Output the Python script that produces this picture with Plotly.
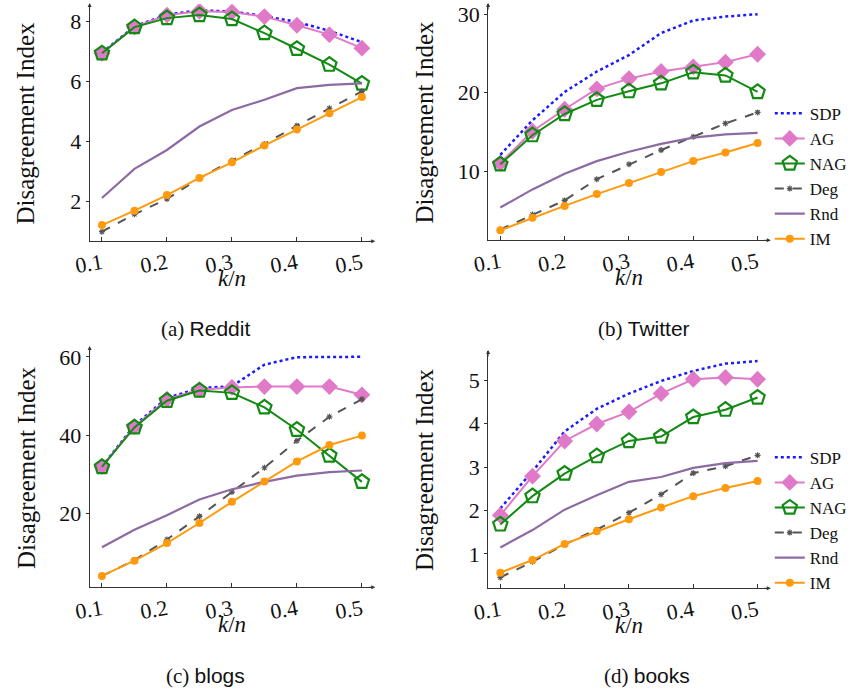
import plotly.graph_objects as go

k_ratio = [0.1, 0.15, 0.2, 0.25, 0.3, 0.35, 0.4, 0.45, 0.5]
x_ticks = [0.1, 0.2, 0.3, 0.4, 0.5]
x_tick_labels = ["0.1", "0.2", "0.3", "0.4", "0.5"]
methods = ["SDP", "AG", "NAG", "Deg", "Rnd", "IM"]

# (a) Reddit
reddit_sdp = [6.95, 7.82, 8.22, 8.36, 8.32, 8.17, 7.97, 7.68, 7.3]
reddit_ag = [6.93, 7.8, 8.2, 8.33, 8.3, 8.15, 7.86, 7.55, 7.1]
reddit_nag = [6.93, 7.8, 8.1, 8.2, 8.07, 7.6, 7.08, 6.55, 5.92]
reddit_deg = [0.99, 1.57, 2.08, 2.77, 3.36, 3.91, 4.52, 5.1, 5.66]
reddit_rnd = [2.11, 3.08, 3.71, 4.49, 5.04, 5.38, 5.77, 5.88, 5.93]
reddit_im = [1.21, 1.69, 2.21, 2.78, 3.3, 3.86, 4.39, 4.93, 5.47]

# (b) Twitter
twitter_sdp = [12.1, 16.5, 20.1, 22.7, 24.8, 27.6, 29.2, 29.7, 30.0]
twitter_ag = [11.05, 15.1, 17.9, 20.5, 21.8, 22.7, 23.3, 23.9, 24.9]
twitter_nag = [10.9, 14.6, 17.3, 19.1, 20.2, 21.2, 22.6, 22.2, 20.1]
twitter_deg = [2.6, 4.5, 6.3, 9.0, 10.9, 12.7, 14.4, 16.1, 17.5]
twitter_rnd = [5.4, 7.7, 9.7, 11.3, 12.5, 13.5, 14.3, 14.7, 14.9]
twitter_im = [2.5, 4.1, 5.6, 7.1, 8.5, 9.9, 11.3, 12.4, 13.6]

# (c) blogs
blogs_sdp = [32.0, 42.5, 49.5, 52.0, 52.5, 58.0, 59.9, 60.0, 60.0]
blogs_ag = [32.0, 42.2, 49.2, 51.6, 52.2, 52.4, 52.4, 52.4, 50.3]
blogs_nag = [31.9, 42.0, 48.8, 51.4, 50.8, 47.1, 41.4, 34.8, 28.1]
blogs_deg = [4.1, 8.1, 13.4, 19.3, 25.5, 31.7, 38.6, 44.7, 49.2]
blogs_rnd = [11.4, 15.9, 19.6, 23.6, 26.2, 28.1, 29.7, 30.6, 31.0]
blogs_im = [4.1, 8.0, 12.5, 17.6, 23.0, 28.2, 33.3, 37.5, 39.9]

# (d) books
books_sdp = [2.05, 2.9, 3.82, 4.34, 4.69, 4.98, 5.21, 5.38, 5.44]
books_ag = [1.89, 2.79, 3.6, 3.99, 4.27, 4.69, 5.02, 5.06, 5.02]
books_nag = [1.68, 2.33, 2.85, 3.25, 3.6, 3.7, 4.15, 4.32, 4.6]
books_deg = [0.46, 0.82, 1.22, 1.56, 1.95, 2.37, 2.86, 3.02, 3.27]
books_rnd = [1.15, 1.55, 2.02, 2.35, 2.66, 2.77, 2.98, 3.09, 3.14]
books_im = [0.57, 0.86, 1.23, 1.52, 1.8, 2.07, 2.33, 2.52, 2.68]

panels = [
    dict(series=[reddit_sdp, reddit_ag, reddit_nag, reddit_deg, reddit_rnd, reddit_im],
         yticks=[2, 4, 6, 8], yrange=[0.67, 8.57], caption="(a)", name="Reddit", legend=None),
    dict(series=[twitter_sdp, twitter_ag, twitter_nag, twitter_deg, twitter_rnd, twitter_im],
         yticks=[10, 20, 30], yrange=[1.22, 31.3], caption="(b)", name="Twitter", legend="legend"),
    dict(series=[blogs_sdp, blogs_ag, blogs_nag, blogs_deg, blogs_rnd, blogs_im],
         yticks=[20, 40, 60], yrange=[1.2, 62.5], caption="(c)", name="blogs", legend=None),
    dict(series=[books_sdp, books_ag, books_nag, books_deg, books_rnd, books_im],
         yticks=[1, 2, 3, 4, 5], yrange=[0.21, 5.67], caption="(d)", name="books", legend="legend2"),
]

W, H = 865, 694
# pixel boxes: left, right, top, bottom
boxes = [(75, 365, 2, 240), (481, 768, 2, 239), (75, 365, 346, 587), (481, 768, 350, 588)]
captions_px = [(193, 328), (640, 328), (193, 676), (643, 676)]

SERIF = "Liberation Serif"
AXC = "#333333"

styles = {
    "SDP": dict(mode="lines", line=dict(color="#1a1aff", width=2.5, dash="dot")),
    "AG": dict(mode="lines+markers", line=dict(color="#e07ac8", width=2),
               marker=dict(symbol="diamond", size=13, color="#e07ac8")),
    "NAG": dict(mode="lines+markers", line=dict(color="#138a13", width=2),
                marker=dict(symbol="pentagon-open", size=15, color="#138a13", line=dict(width=2.2, color="#138a13"))),
    "Deg": dict(mode="lines+markers", line=dict(color="#555555", width=2, dash="dash"),
                marker=dict(symbol="asterisk-open", size=5, color="#555555", line=dict(width=1.2, color="#555555"))),
    "Rnd": dict(mode="lines", line=dict(color="#8e6aa3", width=2.2)),
    "IM": dict(mode="lines+markers", line=dict(color="#ff9a0e", width=2),
               marker=dict(symbol="circle", size=8, color="#ff9a0e")),
}

fig = go.Figure()
annotations = []
for i, p in enumerate(panels):
    sfx = "" if i == 0 else str(i + 1)
    l, r, t, b = boxes[i]
    xdom = [l / W, r / W]
    ydom = [1 - b / H, 1 - t / H]
    for m, ys in zip(methods, p["series"]):
        kw = dict(styles[m])
        fig.add_trace(go.Scatter(
            x=k_ratio, y=ys, name=m, xaxis="x" + sfx, yaxis="y" + sfx,
            showlegend=p["legend"] is not None,
            legend=p["legend"] if p["legend"] else "legend",
            **kw))
    fig.layout["xaxis" + sfx] = dict(
        domain=xdom, range=[0.081, 0.519], anchor="y" + sfx,
        tickvals=x_ticks, ticktext=x_tick_labels, tickangle=-10,
        showline=True, linecolor=AXC, linewidth=1, ticks="inside", ticklen=4,
        tickcolor=AXC, showgrid=False, zeroline=False,
        tickfont=dict(family=SERIF, size=22, color="#111"))
    fig.layout["yaxis" + sfx] = dict(
        domain=ydom, range=p["yrange"], anchor="x" + sfx,
        tickvals=p["yticks"], showline=True, linecolor=AXC, linewidth=1,
        ticks="outside", ticklen=3, tickcolor=AXC, showgrid=False, zeroline=False,
        tickfont=dict(family=SERIF, size=22, color="#111"))
    # axis arrows
    annotations.append(dict(xref="paper", yref="paper", x=(r + 1) / W, y=1 - b / H,
                            ax=-8, ay=0, axref="pixel", ayref="pixel", text="",
                            showarrow=True, arrowhead=2, arrowsize=0.8, arrowwidth=1, arrowcolor=AXC))
    annotations.append(dict(xref="paper", yref="paper", x=l / W, y=1 - (t - 1) / H,
                            ax=0, ay=8, axref="pixel", ayref="pixel", text="",
                            showarrow=True, arrowhead=2, arrowsize=0.8, arrowwidth=1, arrowcolor=AXC))
    # axis titles
    annotations.append(dict(xref="paper", yref="paper", x=(l - 65) / W, y=1 - ((t + b) / 2) / H,
                            xanchor="center", yanchor="middle",
                            text="Disagreement Index", textangle=-90, showarrow=False,
                            font=dict(family=SERIF, size=25, color="#111")))
    annotations.append(dict(xref="paper", yref="paper", x=(l + r) / 2 / W, y=1 - (b + 37) / H,
                            xanchor="center", yanchor="middle",
                            text="<i>k</i>/<i>n</i>", showarrow=False,
                            font=dict(family=SERIF, size=23, color="#111")))
    cx, cy = captions_px[i]
    annotations.append(dict(xref="paper", yref="paper", x=cx / W, y=1 - cy / H,
                            xanchor="center", yanchor="middle",
                            text=p["caption"] + ' <span style="font-family:Liberation Sans">' + p["name"] + "</span>",
                            showarrow=False, font=dict(family=SERIF, size=21, color="#111")))

legend_style = dict(font=dict(family=SERIF, size=17, color="#111"), bgcolor="rgba(0,0,0,0)",
                    xanchor="left", yanchor="top", tracegroupgap=0, itemwidth=30)
fig.update_layout(
    width=W, height=H, margin=dict(l=0, r=0, t=0, b=0),
    paper_bgcolor="white", plot_bgcolor="white",
    annotations=annotations,
    legend=dict(x=768 / W, y=1 - 94 / H, **legend_style),
    legend2=dict(x=768 / W, y=1 - 439 / H, **legend_style),
)

fig.write_html("out.html", config={"displayModeBar": False},
               post_script="document.body.style.margin='0px';")
